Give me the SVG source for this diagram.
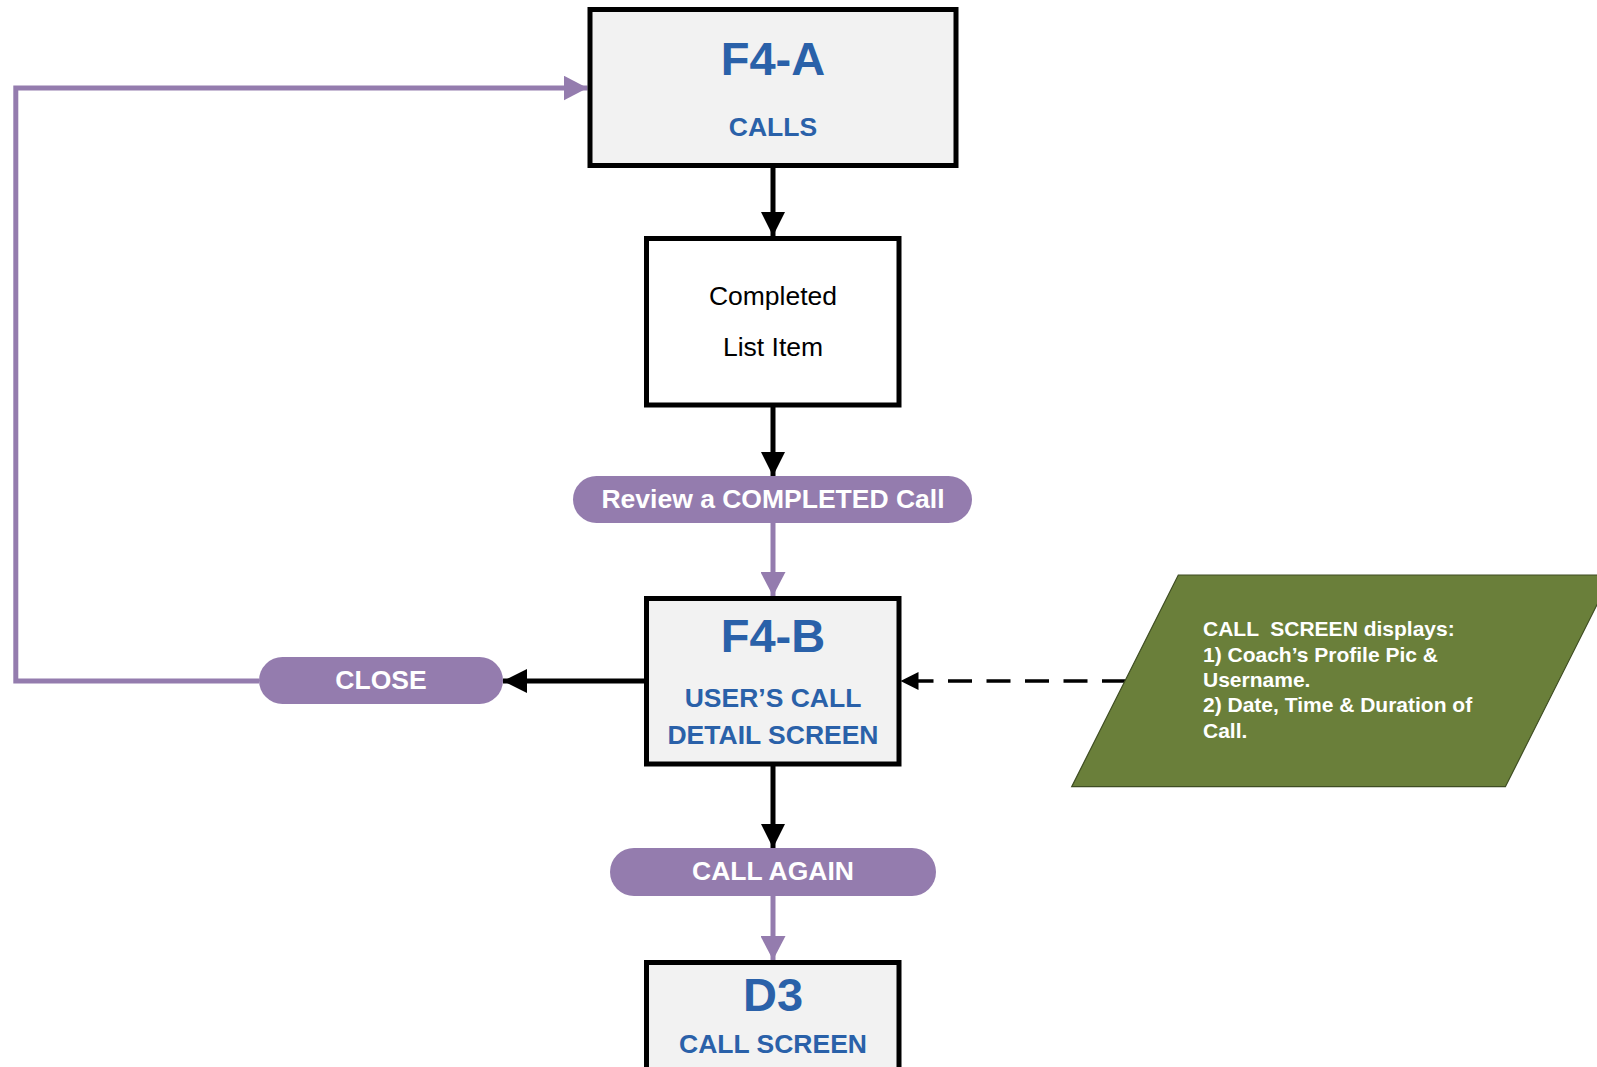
<svg xmlns="http://www.w3.org/2000/svg" width="1597" height="1067" viewBox="0 0 1597 1067">
<style>
.box{fill:#F2F2F2;stroke:#000;stroke-width:5}
.wbox{fill:#FFFFFF;stroke:#000;stroke-width:5}
.pill{fill:#947CAE}
.title{font-family:"Liberation Sans",Arial,sans-serif;font-weight:bold;font-size:47px;fill:#2A61A9;text-anchor:middle}
.sub{font-family:"Liberation Sans",Arial,sans-serif;font-weight:bold;font-size:26.5px;fill:#2A61A9;text-anchor:middle}
.plain{font-family:"Liberation Sans",Arial,sans-serif;font-size:26.5px;fill:#000;text-anchor:middle}
.ptxt{font-family:"Liberation Sans",Arial,sans-serif;font-weight:bold;font-size:26.5px;fill:#FFFFFF;text-anchor:middle}
.note{font-family:"Liberation Sans",Arial,sans-serif;font-weight:bold;font-size:21px;fill:#FFFFFF}
.blk{fill:none;stroke:#000;stroke-width:5}
.pur{fill:none;stroke:#947CAE;stroke-width:5;stroke-linejoin:miter}
.dsh{fill:none;stroke:#000;stroke-width:3.5;stroke-dasharray:24 14.5}
</style>
<defs>
<marker id="ab" markerUnits="userSpaceOnUse" markerWidth="24" markerHeight="24" refX="24" refY="12" orient="auto"><path d="M0,0 L24,12 L0,24 z" fill="#000"/></marker>
<marker id="ap" markerUnits="userSpaceOnUse" markerWidth="24" markerHeight="25" refX="24" refY="12.5" orient="auto"><path d="M0,0 L24,12.5 L0,25 z" fill="#947CAE"/></marker>
<marker id="ad" markerUnits="userSpaceOnUse" markerWidth="18" markerHeight="18" refX="18" refY="9" orient="auto"><path d="M0,0 L18,9 L0,18 z" fill="#000"/></marker>
</defs>
<rect width="1597" height="1067" fill="#FFFFFF"/>

<g id="connectors">
<path class="blk" d="M773,168 L773,236" marker-end="url(#ab)"/>
<path class="blk" d="M773,407 L773,476" marker-end="url(#ab)"/>
<path class="pur" d="M773,523 L773,596" marker-end="url(#ap)"/>
<path class="blk" d="M773,766 L773,848" marker-end="url(#ab)"/>
<path class="pur" d="M773,896 L773,960" marker-end="url(#ap)"/>
<path class="blk" d="M644,681 L503,681" marker-end="url(#ab)"/>
<path class="pur" d="M259,681 L15.8,681 L15.8,88 L587.5,88" marker-end="url(#ap)"/>
<path class="dsh" d="M1126,681 L900.5,681" marker-end="url(#ad)"/>
</g>

<g id="node-f4a">
<rect class="box" x="590" y="9.5" width="366" height="156"/>
<text class="title" x="773" y="75">F4-A</text>
<text class="sub" x="773" y="136">CALLS</text>
</g>

<g id="node-completed">
<rect class="wbox" x="646.5" y="238.5" width="252.5" height="166.5"/>
<text class="plain" x="773" y="305">Completed</text>
<text class="plain" x="773" y="356">List Item</text>
</g>

<g id="node-review">
<rect class="pill" x="573" y="476" width="399" height="47" rx="23.5"/>
<text class="ptxt" x="773" y="508">Review a COMPLETED Call</text>
</g>

<g id="node-f4b">
<rect class="box" x="646.5" y="598.5" width="252.5" height="165.5"/>
<text class="title" x="773" y="652">F4-B</text>
<text class="sub" x="773" y="707">USER’S CALL</text>
<text class="sub" x="773" y="744">DETAIL SCREEN</text>
</g>

<g id="node-close">
<rect class="pill" x="259" y="657" width="244" height="47" rx="23.5"/>
<text class="ptxt" x="381" y="689">CLOSE</text>
</g>

<g id="node-callagain">
<rect class="pill" x="610" y="848" width="326" height="48" rx="24"/>
<text class="ptxt" x="773" y="880">CALL AGAIN</text>
</g>

<g id="node-d3">
<rect class="box" x="646.5" y="962.5" width="252.5" height="200"/>
<text class="title" x="773" y="1011">D3</text>
<text class="sub" x="773" y="1053">CALL SCREEN</text>
</g>

<g id="node-note">
<polygon points="1178.3,575 1612,575 1505.4,786.7 1071.7,786.7" fill="#6A7F3A" stroke="#3E4D22" stroke-width="1.2"/>
<text class="note" xml:space="preserve" x="1203" y="636">CALL  SCREEN displays:</text>
<text class="note" x="1203" y="661.5">1) Coach’s Profile Pic &amp;</text>
<text class="note" x="1203" y="686.5">Username.</text>
<text class="note" x="1203" y="712">2) Date, Time &amp; Duration of</text>
<text class="note" x="1203" y="737.5">Call.</text>
</g>
</svg>
